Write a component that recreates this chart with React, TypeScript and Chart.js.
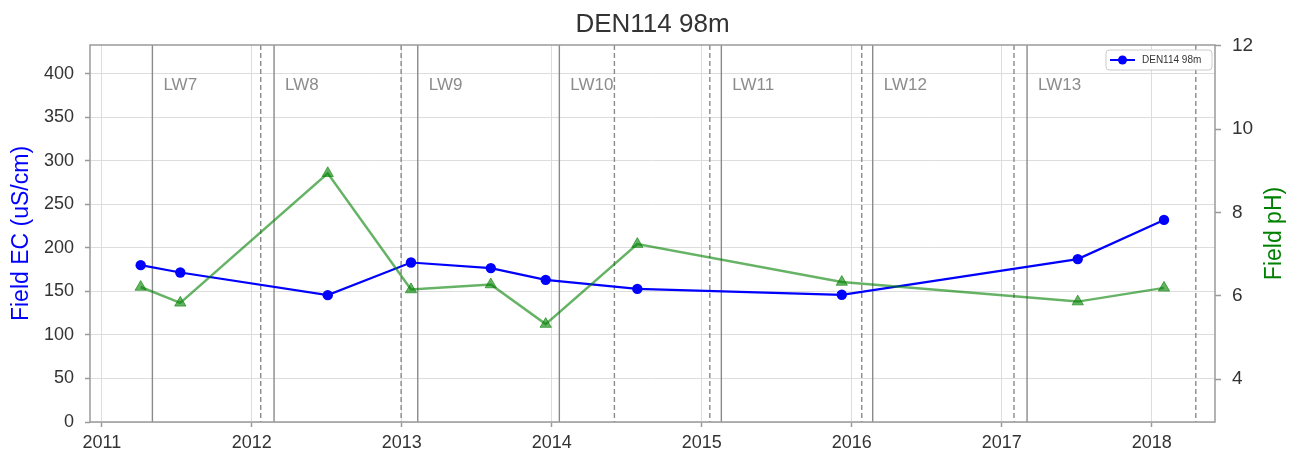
import React, { useEffect, useRef } from 'react';
import { Chart, registerables } from 'chart.js';

Chart.register(...registerables);

// ---- data (decimal years) ----
const sampleYears = [2011.259, 2011.523, 2012.506, 2013.061, 2013.593, 2013.959, 2014.57, 2015.933, 2017.506, 2018.081];
const ecValues = [180.3, 171.8, 145.8, 183.3, 176.9, 163.4, 153.0, 146.2, 187.2, 232.3];
const phValues = [6.21, 5.83, 8.94, 6.15, 6.27, 5.32, 7.24, 6.33, 5.86, 6.19];

const lwLabels = ['LW7', 'LW8', 'LW9', 'LW10', 'LW11', 'LW12', 'LW13'];
const lwStart = [2011.337, 2012.148, 2013.106, 2014.05, 2015.13, 2016.139, 2017.168];
const lwEnd = [2012.059, 2012.995, 2014.417, 2015.053, 2016.066, 2017.081, 2018.293];

const xTicks = [2011, 2012, 2013, 2014, 2015, 2016, 2017, 2018];
const ecTicks = [0, 50, 100, 150, 200, 250, 300, 350, 400];
const phTicks = [4, 6, 8, 10, 12];

const titleText = 'DEN114 98m';
const seriesName = 'DEN114 98m';
const ecLabel = 'Field EC (uS/cm)';
const phLabel = 'Field pH)';

const FONT = '"Liberation Sans", Arial, sans-serif';

const overlayPlugin = {
  id: 'overlay',
  beforeDatasetsDraw(chart: any) {
    const { ctx, chartArea: ca, scales } = chart;
    const xs = scales.x;
    ctx.save();
    ctx.beginPath();
    ctx.rect(ca.left, ca.top, ca.right - ca.left, ca.bottom - ca.top);
    ctx.clip();
    ctx.strokeStyle = '#8a8a8a';
    ctx.lineWidth = 1.4;
    lwStart.forEach((v) => {
      const px = xs.getPixelForValue(v);
      ctx.beginPath();
      ctx.moveTo(px, ca.top);
      ctx.lineTo(px, ca.bottom);
      ctx.stroke();
    });
    ctx.setLineDash([5, 3]);
    lwEnd.forEach((v) => {
      const px = xs.getPixelForValue(v);
      ctx.beginPath();
      ctx.moveTo(px, ca.top);
      ctx.lineTo(px, ca.bottom);
      ctx.stroke();
    });
    ctx.setLineDash([]);
    ctx.fillStyle = '#8c8c8c';
    ctx.font = `17px ${FONT}`;
    ctx.textAlign = 'left';
    ctx.textBaseline = 'alphabetic';
    lwLabels.forEach((l, i) => {
      ctx.fillText(l, xs.getPixelForValue(lwStart[i]) + 11, 90);
    });
    ctx.restore();
  },
  afterDraw(chart: any) {
    const { ctx, chartArea: ca } = chart;
    ctx.save();
    // frame
    ctx.strokeStyle = '#9a9a9a';
    ctx.lineWidth = 1.5;
    ctx.strokeRect(ca.left, ca.top, ca.right - ca.left, ca.bottom - ca.top);

    // title
    ctx.fillStyle = '#333333';
    ctx.font = `26px ${FONT}`;
    ctx.textAlign = 'center';
    ctx.textBaseline = 'alphabetic';
    ctx.fillText(titleText, (ca.left + ca.right) / 2, 31.5);

    // axis titles
    const midY = (ca.top + ca.bottom) / 2;
    ctx.save();
    ctx.translate(28, midY);
    ctx.rotate(-Math.PI / 2);
    ctx.fillStyle = '#0000ff';
    ctx.font = `23px ${FONT}`;
    ctx.textAlign = 'center';
    ctx.fillText(ecLabel, 0, 0);
    ctx.restore();

    ctx.save();
    ctx.translate(1281, midY);
    ctx.rotate(-Math.PI / 2);
    ctx.fillStyle = '#008000';
    ctx.font = `23px ${FONT}`;
    ctx.textAlign = 'center';
    ctx.fillText(phLabel, 0, 0);
    ctx.restore();

    // legend
    const bx = 1106, by = 50, bw = 106, bh = 20, r = 3;
    ctx.beginPath();
    ctx.moveTo(bx + r, by);
    ctx.lineTo(bx + bw - r, by);
    ctx.quadraticCurveTo(bx + bw, by, bx + bw, by + r);
    ctx.lineTo(bx + bw, by + bh - r);
    ctx.quadraticCurveTo(bx + bw, by + bh, bx + bw - r, by + bh);
    ctx.lineTo(bx + r, by + bh);
    ctx.quadraticCurveTo(bx, by + bh, bx, by + bh - r);
    ctx.lineTo(bx, by + r);
    ctx.quadraticCurveTo(bx, by, bx + r, by);
    ctx.closePath();
    ctx.fillStyle = 'rgba(255,255,255,0.9)';
    ctx.fill();
    ctx.strokeStyle = '#cccccc';
    ctx.lineWidth = 1;
    ctx.stroke();
    ctx.strokeStyle = '#0000ff';
    ctx.lineWidth = 2;
    ctx.beginPath();
    ctx.moveTo(1110, 60);
    ctx.lineTo(1135, 60);
    ctx.stroke();
    ctx.fillStyle = '#0000ff';
    ctx.beginPath();
    ctx.arc(1122.5, 60, 4.5, 0, Math.PI * 2);
    ctx.fill();
    ctx.fillStyle = '#333333';
    ctx.font = `10px ${FONT}`;
    ctx.textAlign = 'left';
    ctx.textBaseline = 'middle';
    ctx.fillText(seriesName, 1142, 60.5);
    ctx.restore();
  },
};

export default function App() {
  const canvasRef = useRef<HTMLCanvasElement | null>(null);

  useEffect(() => {
    const canvas = canvasRef.current;
    if (!canvas) return;
    const ecPoints = sampleYears.map((x, i) => ({ x, y: ecValues[i] }));
    const phPoints = sampleYears.map((x, i) => ({ x, y: phValues[i] }));

    const chart = new Chart(canvas, {
      type: 'line',
      data: {
        datasets: [
          {
            label: 'pH',
            data: phPoints,
            yAxisID: 'y2',
            borderColor: 'rgba(0,128,0,0.6)',
            backgroundColor: 'rgba(0,128,0,0.6)',
            pointBackgroundColor: 'rgba(0,128,0,0.6)',
            pointBorderColor: 'rgba(0,128,0,0.6)',
            pointBorderWidth: 1,
            pointStyle: 'triangle',
            pointRadius: 6.5,
            borderWidth: 2.5,
            tension: 0,
          },
          {
            label: seriesName,
            data: ecPoints,
            yAxisID: 'y',
            borderColor: '#0000ff',
            backgroundColor: '#0000ff',
            pointBackgroundColor: '#0000ff',
            pointBorderColor: '#0000ff',
            pointBorderWidth: 0,
            pointStyle: 'circle',
            pointRadius: 5.2,
            borderWidth: 2.2,
            tension: 0,
          },
        ],
      },
      options: {
        responsive: false,
        animation: false,
        devicePixelRatio: 1,
        layout: { padding: { top: 45, left: 0, right: 0, bottom: 0 } },
        plugins: {
          legend: { display: false },
          tooltip: { enabled: false },
          title: { display: false },
        },
        scales: {
          x: {
            type: 'linear',
            position: 'bottom',
            min: 2010.921,
            max: 2018.421,
            afterBuildTicks: (s: any) => {
              s.ticks = xTicks.map((v) => ({ value: v }));
            },
            afterFit: (s: any) => {
              s.height = 35;
            },
            grid: {
              color: '#dddddd',
              lineWidth: 1,
              drawTicks: true,
              tickLength: 5,
              tickColor: '#9a9a9a',
              tickWidth: 1.5,
            },
            border: { display: false },
            ticks: {
              color: '#333333',
              font: { family: FONT, size: 18 },
              padding: 5,
              maxRotation: 0,
              autoSkip: false,
              callback: (v: any) => String(v),
            },
          },
          y: {
            type: 'linear',
            position: 'left',
            min: 0,
            max: 433.3,
            afterBuildTicks: (s: any) => {
              s.ticks = ecTicks.map((v) => ({ value: v }));
            },
            afterFit: (s: any) => {
              s.width = 90;
            },
            grid: {
              color: '#dddddd',
              lineWidth: 1,
              drawTicks: true,
              tickLength: 5,
              tickColor: '#9a9a9a',
              tickWidth: 1.5,
            },
            border: { display: false },
            ticks: {
              color: '#333333',
              font: { family: FONT, size: 18 },
              padding: 11,
              callback: (v: any) => String(v),
            },
          },
          y2: {
            type: 'linear',
            position: 'right',
            min: 2.97,
            max: 12.02,
            afterBuildTicks: (s: any) => {
              s.ticks = phTicks.map((v) => ({ value: v }));
            },
            afterFit: (s: any) => {
              s.width = 87;
            },
            grid: {
              drawOnChartArea: false,
              drawTicks: true,
              tickLength: 6,
              tickColor: '#9a9a9a',
              tickWidth: 1.5,
            },
            border: { display: false },
            ticks: {
              color: '#333333',
              font: { family: FONT, size: 19 },
              padding: 11,
              callback: (v: any) => String(v),
            },
          },
        },
      },
      plugins: [overlayPlugin],
    });
    return () => chart.destroy();
  }, []);

  return (
    <div style={{ position: 'fixed', left: 0, top: 0, width: 1302, height: 457, background: '#ffffff' }}>
      <canvas ref={canvasRef} width={1302} height={457} style={{ display: 'block', width: 1302, height: 457 }} />
    </div>
  );
}
